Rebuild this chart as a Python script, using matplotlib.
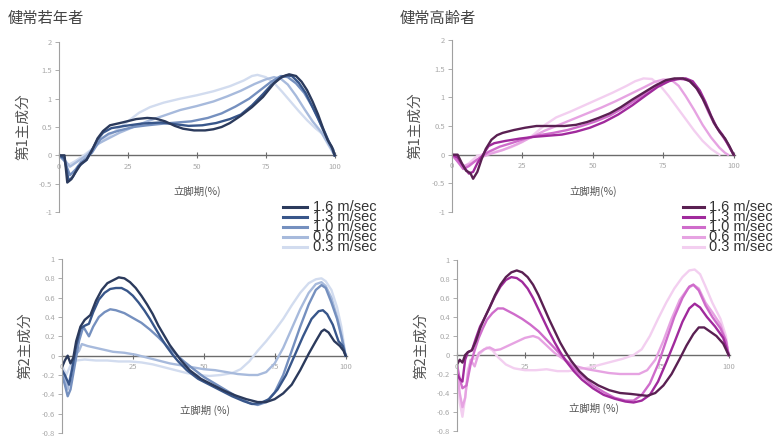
import matplotlib
matplotlib.use("Agg")
import matplotlib.pyplot as plt
from matplotlib.lines import Line2D

plt.rcParams['font.family'] = ['Noto Sans CJK JP', 'DejaVu Sans']

# speeds (legend order)
speeds = ["1.6 m/sec", "1.3 m/sec", "1.0 m/sec", "0.6 m/sec", "0.3 m/sec"]
young_colors = ["#2b3a5c", "#38568a", "#7590bf", "#a7badc", "#d2dcef"]
old_colors = ["#5a2052", "#a02a9c", "#cf6ccb", "#e6a3e2", "#f3cff0"]

titles = ["健常若年者", "健常高齢者"]
ylabels = ["第1主成分", "第2主成分"]
xlabels = ["立脚期(%)", "立脚期 (%)"]
xticks = [0, 25, 50, 75, 100]
pc1_yticks = [-1, -0.5, 0, 0.5, 1, 1.5, 2]
pc2_yticks = [-0.8, -0.6, -0.4, -0.2, 0, 0.2, 0.4, 0.6, 0.8, 1]

# ---- young, PC1 (x = stance %, y = score)
y1_16 = [(0, 0), (2, 0), (3, -0.48), (4.5, -0.42), (6, -0.3), (8, -0.15), (10, -0.08), (12, 0.09),
         (14, 0.3), (16, 0.43), (18.5, 0.53), (23, 0.58), (28, 0.64), (32, 0.66), (35, 0.65),
         (38.5, 0.6), (42, 0.52), (45, 0.47), (49, 0.44), (53, 0.44), (56, 0.46), (59, 0.5),
         (62, 0.57), (66, 0.7), (70, 0.85), (74, 1.03), (78, 1.27), (81, 1.39), (83.5, 1.43),
         (86, 1.4), (88, 1.3), (90, 1.15), (92, 0.95), (94, 0.72), (96, 0.45), (97.5, 0.27),
         (99, 0.15), (100, 0)]
y1_13 = [(0, 0), (2, -0.05), (3.5, -0.45), (5, -0.38), (7, -0.2), (10, -0.08), (12, 0.1), (14, 0.28),
         (16, 0.4), (19, 0.48), (24, 0.52), (30, 0.56), (37, 0.58), (42, 0.55), (47, 0.52),
         (52, 0.53), (57, 0.57), (62, 0.64), (66, 0.72), (70, 0.88), (74, 1.08), (77, 1.24),
         (80, 1.36), (82.5, 1.41), (84.5, 1.4), (87, 1.28), (89.5, 1.1), (92, 0.85), (94, 0.65),
         (96, 0.43), (98, 0.22), (99.5, 0.1), (100, 0)]
y1_10 = [(0, 0), (2, -0.1), (4, -0.35), (6, -0.25), (8, -0.12), (10, -0.05), (12, 0.05), (15, 0.28),
         (18, 0.38), (22, 0.44), (27, 0.5), (32, 0.53), (38, 0.56), (43, 0.58), (48, 0.6),
         (54, 0.66), (59, 0.74), (64, 0.86), (69, 1.0), (73, 1.15), (77, 1.3), (80.5, 1.4),
         (83, 1.38), (86, 1.27), (89, 1.1), (92, 0.85), (94.5, 0.6), (96.5, 0.4), (98.5, 0.18),
         (100, 0)]
y1_06 = [(0, 0), (2, -0.08), (4, -0.2), (7, -0.1), (10, 0.0), (14, 0.2), (18, 0.3), (22, 0.4),
         (27, 0.5), (32, 0.6), (38, 0.7), (44, 0.8), (50, 0.87), (56, 0.95), (61, 1.04),
         (66, 1.14), (71, 1.26), (75, 1.34), (78, 1.38), (80.5, 1.35), (83, 1.25), (86, 1.05),
         (89, 0.82), (92, 0.6), (95, 0.42), (97.5, 0.22), (99.5, 0.05), (100, 0)]
y1_03 = [(0, 0), (1.5, -0.05), (3, -0.18), (6, -0.1), (9, 0.0), (13, 0.15), (17, 0.3), (21, 0.45),
         (25, 0.6), (29, 0.75), (33, 0.85), (38, 0.93), (44, 1.0), (50, 1.06), (56, 1.13),
         (62, 1.22), (67, 1.32), (70, 1.4), (72, 1.42), (75, 1.38), (78, 1.28), (81, 1.12),
         (84, 0.95), (87, 0.78), (90, 0.62), (93, 0.48), (95.5, 0.38), (97.5, 0.2), (99, 0.08),
         (100, 0)]

# ---- elderly, PC1
e1_16 = [(0, 0), (2, 0), (3.5, -0.15), (5, -0.28), (6.5, -0.32), (7.5, -0.42), (9, -0.3),
         (10.5, -0.08), (12, 0.1), (14, 0.26), (16, 0.34), (18, 0.38), (22, 0.43), (26, 0.47),
         (30, 0.5), (35, 0.5), (40, 0.5), (44, 0.52), (48, 0.57), (52, 0.64), (56, 0.72),
         (60, 0.83), (64, 0.96), (68, 1.08), (72, 1.2), (76, 1.3), (79, 1.33), (82, 1.33),
         (84.5, 1.28), (87, 1.15), (89, 0.98), (91, 0.78), (93, 0.56), (95, 0.4), (97, 0.28),
         (98.5, 0.15), (100, 0)]
e1_13 = [(0, 0), (2, -0.05), (4, -0.2), (6, -0.33), (7.5, -0.3), (9, -0.15), (11, 0.0), (13, 0.15),
         (15, 0.2), (19, 0.24), (24, 0.28), (29, 0.31), (34, 0.33), (39, 0.35), (44, 0.4),
         (49, 0.47), (54, 0.57), (59, 0.7), (64, 0.86), (69, 1.04), (73, 1.18), (77, 1.28),
         (80, 1.32), (83, 1.33), (85.5, 1.28), (88, 1.12), (90, 0.92), (92, 0.68), (94, 0.48),
         (96, 0.35), (98, 0.18), (100, 0)]
e1_10 = [(0, 0), (2, -0.12), (4, -0.25), (6, -0.2), (8, -0.12), (10, -0.05), (13, 0.05), (17, 0.14),
         (21, 0.2), (26, 0.28), (31, 0.34), (36, 0.38), (41, 0.43), (46, 0.5), (51, 0.58),
         (56, 0.68), (61, 0.82), (66, 0.98), (70, 1.12), (74, 1.24), (78, 1.3), (81, 1.32),
         (84, 1.3), (86.5, 1.18), (89, 0.98), (91, 0.75), (93, 0.55), (95, 0.4), (97.5, 0.22),
         (100, 0)]
e1_06 = [(0, 0), (2, -0.1), (4, -0.2), (7, -0.15), (10, -0.05), (14, 0.02), (18, 0.08), (23, 0.18),
         (28, 0.3), (33, 0.42), (38, 0.52), (43, 0.62), (48, 0.72), (53, 0.82), (58, 0.93),
         (63, 1.05), (68, 1.17), (72, 1.27), (75, 1.31), (78, 1.3), (80.5, 1.2), (83, 1.02),
         (86, 0.78), (89, 0.52), (92, 0.3), (95, 0.12), (97, 0.03), (98, 0)]
e1_03 = [(0, 0), (2, -0.12), (4, -0.22), (6, -0.15), (9, -0.02), (13, 0.03), (17, 0.07), (21, 0.13),
         (25, 0.22), (29, 0.35), (33, 0.52), (37, 0.65), (42, 0.75), (47, 0.86), (52, 0.97),
         (57, 1.08), (62, 1.2), (65, 1.28), (68, 1.33), (71, 1.32), (74, 1.2), (77, 1.02),
         (80, 0.82), (83, 0.62), (86, 0.42), (89, 0.24), (92, 0.1), (95, 0)]

# ---- young, PC2
y2_16 = [(0, -0.12), (1, -0.05), (2, 0.0), (3, -0.08), (4, -0.02), (5, 0.15), (6.5, 0.3), (8, 0.37),
         (10, 0.42), (12, 0.57), (14, 0.68), (16, 0.75), (18, 0.78), (20, 0.81), (22, 0.8),
         (24, 0.76), (26, 0.7), (28, 0.62), (30, 0.53), (32, 0.43), (34, 0.31), (36, 0.21),
         (38, 0.11), (40, 0.03), (42, -0.05), (45, -0.15), (49, -0.24), (53, -0.3), (57, -0.36),
         (61, -0.41), (65, -0.45), (69, -0.48), (72, -0.48), (75, -0.45), (78, -0.39), (81, -0.3),
         (84, -0.15), (87, 0.02), (89.5, 0.15), (91.5, 0.25), (92.5, 0.27), (94, 0.24),
         (96, 0.15), (98, 0.1), (99.3, 0.05), (100, 0)]
y2_13 = [(0, -0.15), (1, -0.2), (2.5, -0.3), (3.5, -0.15), (5, 0.1), (6.5, 0.28), (8, 0.31),
         (9.5, 0.33), (11, 0.45), (13, 0.58), (15, 0.65), (17, 0.69), (19, 0.7), (21, 0.7),
         (23, 0.67), (25, 0.62), (27, 0.55), (29, 0.47), (31, 0.38), (33, 0.28), (35, 0.18),
         (37, 0.09), (39, 0.01), (41, -0.06), (44, -0.15), (48, -0.24), (52, -0.3), (56, -0.36),
         (60, -0.42), (64, -0.47), (67, -0.5), (70, -0.49), (73, -0.45), (76, -0.35), (79, -0.2),
         (82, 0.0), (85, 0.2), (88, 0.38), (90.5, 0.46), (92, 0.47), (93.5, 0.43), (95.5, 0.32),
         (97.5, 0.15), (99, 0.1), (100, 0)]
y2_10 = [(0, -0.2), (1, -0.3), (2, -0.42), (3, -0.35), (4.5, -0.1), (6, 0.15), (7.5, 0.3),
         (8.5, 0.25), (9.5, 0.2), (11, 0.3), (13, 0.4), (15, 0.45), (17, 0.48), (19, 0.47),
         (22, 0.44), (25, 0.39), (28, 0.34), (31, 0.27), (34, 0.19), (37, 0.1), (40, 0.02),
         (43, -0.06), (46, -0.13), (50, -0.22), (54, -0.29), (58, -0.36), (62, -0.43), (66, -0.49),
         (69, -0.51), (72, -0.48), (75, -0.38), (78, -0.2), (81, 0.05), (84, 0.3), (87, 0.53),
         (89.5, 0.68), (91.5, 0.73), (93, 0.7), (95, 0.55), (97, 0.38), (98.5, 0.2), (100, 0)]
y2_06 = [(0, -0.15), (1, -0.25), (2, -0.35), (3, -0.2), (4.5, 0.0), (6, 0.05), (7, 0.12), (9, 0.1),
         (12, 0.08), (15, 0.06), (18, 0.04), (22, 0.03), (26, 0.01), (30, -0.02), (34, -0.05),
         (38, -0.08), (42, -0.1), (46, -0.12), (50, -0.14), (54, -0.15), (58, -0.17), (62, -0.19),
         (66, -0.2), (69, -0.2), (72, -0.17), (75, -0.08), (78, 0.08), (81, 0.28), (84, 0.48),
         (87, 0.65), (89.5, 0.74), (91.5, 0.76), (93, 0.72), (95, 0.6), (97, 0.4), (98.5, 0.22),
         (100, 0)]
y2_03 = [(0, -0.1), (1.5, -0.2), (3, -0.1), (5, -0.05), (8, -0.04), (12, -0.05), (16, -0.05),
         (20, -0.06), (24, -0.06), (28, -0.07), (32, -0.09), (36, -0.12), (40, -0.15), (44, -0.18),
         (48, -0.2), (52, -0.21), (56, -0.2), (60, -0.18), (63, -0.14), (66, -0.06), (69, 0.05),
         (72, 0.15), (75, 0.26), (78, 0.38), (81, 0.52), (84, 0.65), (87, 0.75), (89.5, 0.79),
         (91.5, 0.8), (93, 0.77), (95, 0.68), (97, 0.5), (98.5, 0.3), (100, 0)]

# ---- elderly, PC2
e2_16 = [(0, -0.1), (1, -0.05), (2, -0.08), (3, 0.0), (4, 0.03), (5.5, 0.05), (7, 0.15), (8.5, 0.28),
         (10, 0.38), (12, 0.5), (14, 0.63), (16, 0.74), (18, 0.82), (20, 0.87), (22, 0.89),
         (24, 0.87), (26, 0.82), (28, 0.74), (30, 0.63), (32, 0.5), (34, 0.37), (36, 0.25),
         (38, 0.13), (40, 0.03), (42, -0.06), (45, -0.17), (48, -0.25), (52, -0.32), (56, -0.37),
         (60, -0.4), (64, -0.41), (67, -0.42), (70, -0.43), (73, -0.4), (76, -0.32), (79, -0.2),
         (82, -0.04), (84.5, 0.1), (87, 0.22), (89, 0.29), (91, 0.29), (93, 0.25), (95.5, 0.2),
         (98, 0.12), (100, 0)]
e2_13 = [(0, -0.2), (1, -0.25), (2, -0.28), (3, -0.05), (4, 0.03), (5.5, 0.05), (7, 0.18),
         (8.5, 0.3), (10, 0.38), (12, 0.5), (14, 0.62), (16, 0.72), (18, 0.79), (20, 0.82),
         (22, 0.81), (24, 0.77), (26, 0.7), (28, 0.6), (30, 0.48), (32, 0.36), (34, 0.24),
         (36, 0.13), (38, 0.03), (40, -0.06), (43, -0.17), (46, -0.26), (50, -0.35), (54, -0.42),
         (58, -0.46), (62, -0.49), (65, -0.5), (68, -0.48), (71, -0.42), (74, -0.28), (77, -0.08),
         (80, 0.13), (83, 0.35), (85.5, 0.49), (87.5, 0.54), (89.5, 0.5), (92, 0.4), (95, 0.3),
         (98, 0.18), (100, 0)]
e2_10 = [(0, -0.1), (1, -0.25), (2, -0.35), (3.5, -0.32), (5, -0.1), (6.5, 0.05), (8, 0.18),
         (9.5, 0.28), (11, 0.37), (13, 0.44), (15, 0.49), (17, 0.49), (19, 0.46), (21, 0.43),
         (24, 0.38), (27, 0.32), (30, 0.25), (33, 0.16), (36, 0.07), (39, -0.02), (42, -0.11),
         (46, -0.22), (50, -0.32), (54, -0.39), (58, -0.45), (62, -0.48), (65, -0.48), (68, -0.42),
         (71, -0.3), (74, -0.1), (77, 0.15), (80, 0.4), (83, 0.6), (85.5, 0.72), (87, 0.74),
         (89, 0.68), (91.5, 0.52), (94, 0.4), (97, 0.28), (99, 0.15), (100, 0)]
e2_06 = [(0, -0.15), (1, -0.4), (2, -0.55), (3, -0.45), (4, -0.2), (5, -0.05), (6.5, -0.12),
         (8, 0.02), (10, 0.06), (12, 0.08), (14, 0.05), (16, 0.06), (19, 0.1), (22, 0.14),
         (25, 0.18), (28, 0.2), (30, 0.18), (33, 0.1), (36, 0.02), (40, -0.06), (44, -0.12),
         (48, -0.15), (52, -0.17), (56, -0.19), (60, -0.2), (64, -0.2), (67, -0.2), (70, -0.16),
         (73, -0.05), (76, 0.15), (79, 0.38), (82, 0.58), (85, 0.7), (87, 0.74), (89, 0.7),
         (91.5, 0.55), (94, 0.45), (97, 0.32), (99, 0.15), (100, 0)]
e2_03 = [(0, -0.2), (1, -0.5), (2, -0.65), (3, -0.45), (4, -0.15), (5.5, -0.05), (7, -0.03),
         (9, 0.03), (11, 0.08), (13, 0.05), (15, -0.02), (18, -0.1), (21, -0.14), (25, -0.16),
         (29, -0.16), (33, -0.15), (37, -0.17), (41, -0.17), (45, -0.15), (49, -0.13), (53, -0.1),
         (57, -0.07), (61, -0.04), (65, 0.0), (68, 0.06), (71, 0.2), (74, 0.38), (77, 0.55),
         (80, 0.7), (83, 0.82), (85.5, 0.89), (87.5, 0.9), (89.5, 0.85), (91.5, 0.72), (94, 0.55),
         (97, 0.38), (99, 0.2), (100, 0)]

W, H = 779, 437
fig = plt.figure(figsize=(W / 100, H / 100), dpi=100)


def px_axes(x0, x1, ytop, ybot):
    # axes box from pixel coords (top-left origin)
    return fig.add_axes([x0 / W, 1 - ybot / H, (x1 - x0) / W, (ybot - ytop) / H])


def draw_panel(ax, curves, colors, yticks, ylim, ylabel, xlabel, xlab_y):
    # lightest first so dark lines sit on top
    for c, col in reversed(list(zip(curves, colors))):
        xs = [p[0] for p in c]
        ys = [p[1] for p in c]
        ax.plot(xs, ys, color=col, lw=1.7, solid_joinstyle='round')
    ax.set_xlim(0, 100.5)
    ax.set_ylim(*ylim)
    ax.patch.set_alpha(0)
    for s in ['top', 'right']:
        ax.spines[s].set_visible(False)
    ax.spines['bottom'].set_position(('data', 0))
    ax.spines['bottom'].set_color('#6b6b6b')
    ax.spines['bottom'].set_linewidth(1.0)
    ax.spines['bottom'].set_zorder(0.5)
    ax.spines['left'].set_color('#a0a0a0')
    ax.spines['left'].set_linewidth(0.8)
    ax.set_xticks(xticks)
    ax.set_xticklabels([str(t) for t in xticks])
    ax.set_yticks(yticks)
    ax.set_yticklabels(['{:g}'.format(t) for t in yticks])
    ax.tick_params(axis='x', direction='inout', length=5, width=0.8, color='#6b6b6b',
                   labelsize=5.5, labelcolor='#a8a8a8', pad=3)
    ax.tick_params(axis='y', direction='out', length=3, width=0.6, color='#a0a0a0',
                   labelsize=5.5, labelcolor='#a8a8a8', pad=2)
    ax.text(-0.13, 0.5, ylabel, transform=ax.transAxes, rotation=90, ha='center', va='center',
            fontsize=10.5, color='#555555')
    ax.text(0.5, xlab_y, xlabel, transform=ax.transAxes, ha='center', va='center',
            fontsize=7.5, color='#555555')


ax1 = px_axes(59, 336, 42, 212)
draw_panel(ax1, [y1_16, y1_13, y1_10, y1_06, y1_03], young_colors, pc1_yticks, (-1, 2),
           ylabels[0], xlabels[0], 0.12)
ax2 = px_axes(452, 735, 40, 212)
draw_panel(ax2, [e1_16, e1_13, e1_10, e1_06, e1_03], old_colors, pc1_yticks, (-1, 2),
           ylabels[0], xlabels[0], 0.12)
ax3 = px_axes(62, 347, 259, 433)
draw_panel(ax3, [y2_16, y2_13, y2_10, y2_06, y2_03], young_colors, pc2_yticks, (-0.8, 1),
           ylabels[1], xlabels[1], 0.13)
ax4 = px_axes(457, 730, 260, 431)
draw_panel(ax4, [e2_16, e2_13, e2_10, e2_06, e2_03], old_colors, pc2_yticks, (-0.8, 1),
           ylabels[1], xlabels[1], 0.13)

fig.text(8 / W, 1 - 18 / H, titles[0], fontsize=11, color='#444444', va='center', ha='left')
fig.text(400 / W, 1 - 18 / H, titles[1], fontsize=11, color='#444444', va='center', ha='left')

# legends (tightly stacked, as in the source)
for lx0, lx1, tx, colors in [(283, 307, 313, young_colors), (683, 704, 709, old_colors)]:
    for i, (lab, col) in enumerate(zip(speeds, colors)):
        yy = 1 - (207 + i * 10.0) / H
        fig.add_artist(Line2D([lx0 / W, lx1 / W], [yy, yy], color=col, lw=2.2,
                              transform=fig.transFigure))
        fig.text(tx / W, yy, lab, fontsize=10.5, color='#333333', va='center', ha='left',
                 family=['Liberation Sans', 'DejaVu Sans'])

fig.savefig("out.png", dpi=100)
